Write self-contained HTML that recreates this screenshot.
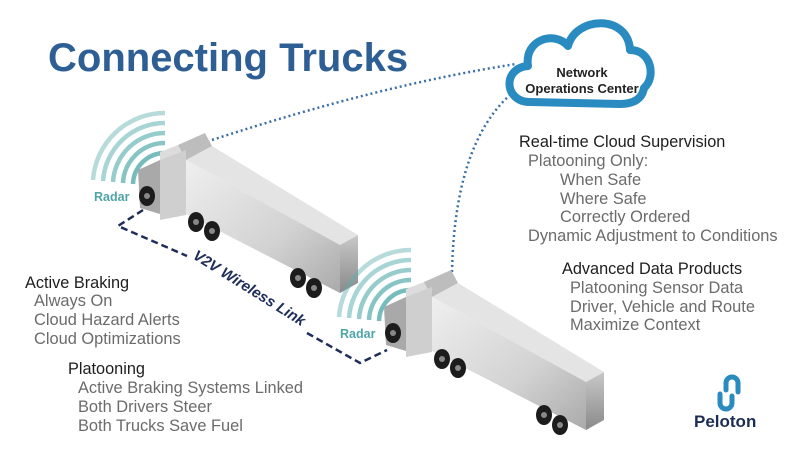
<!DOCTYPE html>
<html><head><meta charset="utf-8"><style>
body{margin:0;background:#fff;}
svg{display:block;font-family:"Liberation Sans",sans-serif;}
.g{fill:#6b6b6b;font-size:16.4px;}
.h{fill:#1e1e1e;font-size:16.3px;}
</style></head><body>
<svg width="800" height="449" viewBox="0 0 800 449">
<defs>
<linearGradient id="side" x1="0" y1="0" x2="1" y2="1"><stop offset="0" stop-color="#efefef"/><stop offset="0.6" stop-color="#d2d2d2"/><stop offset="1" stop-color="#aaaaaa"/></linearGradient>
<linearGradient id="back" x1="0" y1="0" x2="0" y2="1"><stop offset="0" stop-color="#c8c8c8"/><stop offset="1" stop-color="#8a8a8a"/></linearGradient>
<g id="truck">
 <g fill="none" stroke="#5fb0b0" stroke-width="4.5">
  <path d="M93,180 A72,72 0 0 1 165,113" opacity="0.45"/>
  <path d="M103,181 A62,62 0 0 1 165,123" opacity="0.55"/>
  <path d="M113,182 A52,52 0 0 1 165,133" opacity="0.65"/>
  <path d="M123,183 A42,42 0 0 1 165,143" opacity="0.75"/>
  <path d="M133,184 A32,32 0 0 1 165,153" opacity="0.85"/>
  <path d="M143,185 A22,22 0 0 1 165,163"/>
 </g>
 <text x="94" y="201" fill="#4ea5a8" font-size="12.5" font-weight="bold">Radar</text>
 <polygon points="186,160 212,146 358,235 340,245" fill="#e4e4e4"/>
 <polygon points="186,160 340,245 340,293 186,214" fill="url(#side)"/>
 <polygon points="340,245 358,235 358,283 340,293" fill="url(#back)"/>
 <polygon points="160,152 186,142 186,206 160,214" fill="#dcdcdc"/>
 <polygon points="178,145 205,133 212,146 186,160" fill="#bdbdbd"/>
 <polygon points="138,170 160,160 160,214 140,208" fill="#a9a9a9"/>
 <polygon points="160,160 186,150 186,215 160,220" fill="#cfcfcf"/>
 <g fill="#1c1c1c"><ellipse cx="147" cy="196" rx="8" ry="10"/><ellipse cx="196" cy="222" rx="8" ry="10"/><ellipse cx="212" cy="231" rx="8" ry="10"/><ellipse cx="298" cy="278" rx="8" ry="10"/><ellipse cx="314" cy="288" rx="8" ry="10"/></g>
 <g fill="#888"><circle cx="147" cy="196" r="3"/><circle cx="196" cy="222" r="3"/><circle cx="212" cy="231" r="3"/><circle cx="298" cy="278" r="3"/><circle cx="314" cy="288" r="3"/></g>
</g>
</defs>
<text x="48" y="71" fill="#2e5f94" font-size="40" font-weight="bold">Connecting Trucks</text>

<path d="M212,140 Q380,85 516,64" fill="none" stroke="#3a6ea5" stroke-width="2.5" stroke-dasharray="2,3"/>
<path d="M452,272 Q455,130 524,84" fill="none" stroke="#3a6ea5" stroke-width="2.5" stroke-dasharray="2,3"/>

<path d="M530,102 C504,102 502,68 528,66 C524,40 554,30 568,46 C576,16 628,14 630,50 C652,50 656,78 644,88 C642,100 632,104 620,104 Z" fill="#fff" stroke="#2a8bc0" stroke-width="8" stroke-linejoin="round"/>
<text x="582" y="77" text-anchor="middle" font-size="13" font-weight="bold" fill="#222">Network</text>
<text x="582" y="93" text-anchor="middle" font-size="13" font-weight="bold" fill="#222">Operations Center</text>

<use href="#truck"/>
<use href="#truck" transform="translate(246,137)"/>

<path d="M143,210 L118,226 L187,256" fill="none" stroke="#1e2d5a" stroke-width="2.5" stroke-dasharray="7,4"/>
<path d="M307,333 L360,363 L387,350" fill="none" stroke="#1e2d5a" stroke-width="2.5" stroke-dasharray="7,4"/>
<text transform="translate(192,258) rotate(32)" font-size="15" font-weight="bold" font-style="italic" fill="#1e2d5a">V2V Wireless Link</text>

<text x="25" y="288" class="h">Active Braking</text>
<text x="34" y="306" class="g">Always On</text>
<text x="34" y="325" class="g">Cloud Hazard Alerts</text>
<text x="34" y="344" class="g">Cloud Optimizations</text>
<text x="68" y="374" class="h">Platooning</text>
<text x="78" y="393" class="g">Active Braking Systems Linked</text>
<text x="78" y="412" class="g">Both Drivers Steer</text>
<text x="78" y="431" class="g">Both Trucks Save Fuel</text>

<text x="519" y="147" class="h">Real-time Cloud Supervision</text>
<text x="528" y="166" class="g">Platooning Only:</text>
<text x="560" y="185" class="g">When Safe</text>
<text x="560" y="204" class="g">Where Safe</text>
<text x="560" y="222" class="g">Correctly Ordered</text>
<text x="528" y="241" class="g">Dynamic Adjustment to Conditions</text>
<text x="562" y="274" class="h">Advanced Data Products</text>
<text x="570" y="293" class="g">Platooning Sensor Data</text>
<text x="570" y="312" class="g">Driver, Vehicle and Route</text>
<text x="570" y="330" class="g">Maximize Context</text>

<g fill="none" stroke="#2a8bc0" stroke-width="5" stroke-linecap="round">
<path d="M726,390 L726,383 A6,6 0 0 1 738,383 L738,392"/>
<path d="M732,396 L732,403 A6,6 0 0 1 720,403 L720,394"/>
</g>
<text x="694" y="427" font-size="17" font-weight="bold" fill="#1c2d55">Peloton</text>
</svg>
</body></html>
